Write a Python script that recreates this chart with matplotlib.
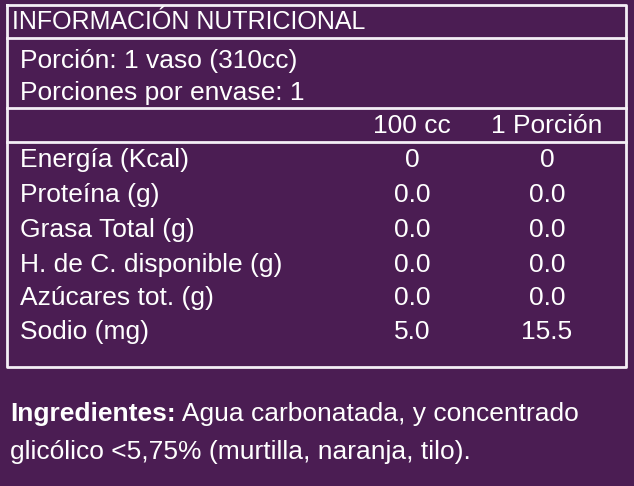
import matplotlib
matplotlib.use("Agg")
import matplotlib.pyplot as plt
from matplotlib import font_manager

title = "INFORMACIÓN NUTRICIONAL"
portion_lines = ["Porción: 1 vaso (310cc)", "Porciones por envase: 1"]
col_headers = ["100 cc", "1 Porción"]
nutrients = ["Energía (Kcal)", "Proteína (g)", "Grasa Total (g)",
             "H. de C. disponible (g)", "Azúcares tot. (g)", "Sodio (mg)"]
per_100 = ["0", "0.0", "0.0", "0.0", "0.0", "5.0"]
per_portion = ["0", "0.0", "0.0", "0.0", "0.0", "15.5"]
ingr_bold = "Ingredientes:"
ingr_rest = " Agua carbonatada, y concentrado"
ingr_line2 = "glicólico <5,75% (murtilla, naranja, tilo)."

names = {f.name for f in font_manager.fontManager.ttflist}
family = "Liberation Sans" if "Liberation Sans" in names else "DejaVu Sans"

bg = "#4b1d53"
W, H = 634, 486
fig = plt.figure(figsize=(W / 100, H / 100), dpi=100, facecolor=bg)
ax = fig.add_axes([0, 0, 1, 1])
ax.set_xlim(0, W)
ax.set_ylim(H, 0)
ax.axis("off")
ax.set_facecolor(bg)

lw = 2.0
col = "#f4eef6"
# box outline and separators
ax.plot([7, 626, 626, 7, 7], [5, 5, 367, 367, 5], color=col, lw=lw)
for y in [38, 108, 142]:
    ax.plot([7, 626], [y, y], color=col, lw=lw)

fs = 19
kw = dict(color="white", family=family, va="center")
ax.text(12, 22, title, fontsize=18, **kw)
ax.text(20, 61, portion_lines[0], fontsize=fs, **kw)
ax.text(20, 93, portion_lines[1], fontsize=fs, **kw)
ax.text(412, 126, col_headers[0], fontsize=fs, ha="center", **kw)
ax.text(547, 126, col_headers[1], fontsize=fs, ha="center", **kw)

row_y = [160, 195, 230, 265, 298, 332]
for y, n, a, b in zip(row_y, nutrients, per_100, per_portion):
    ax.text(20, y, n, fontsize=fs, **kw)
    ax.text(412, y, a, fontsize=fs, ha="center", **kw)
    ax.text(547, y, b, fontsize=fs, ha="center", **kw)

t = ax.text(10, 414, ingr_bold, fontsize=fs, fontweight="bold", **kw)
fig.canvas.draw()
x_end = ax.transData.inverted().transform(t.get_window_extent().get_points())[1, 0]
ax.text(x_end, 414, ingr_rest, fontsize=fs, **kw)
ax.text(10, 452, ingr_line2, fontsize=fs, **kw)

fig.savefig("out.png", dpi=100, facecolor=bg)
